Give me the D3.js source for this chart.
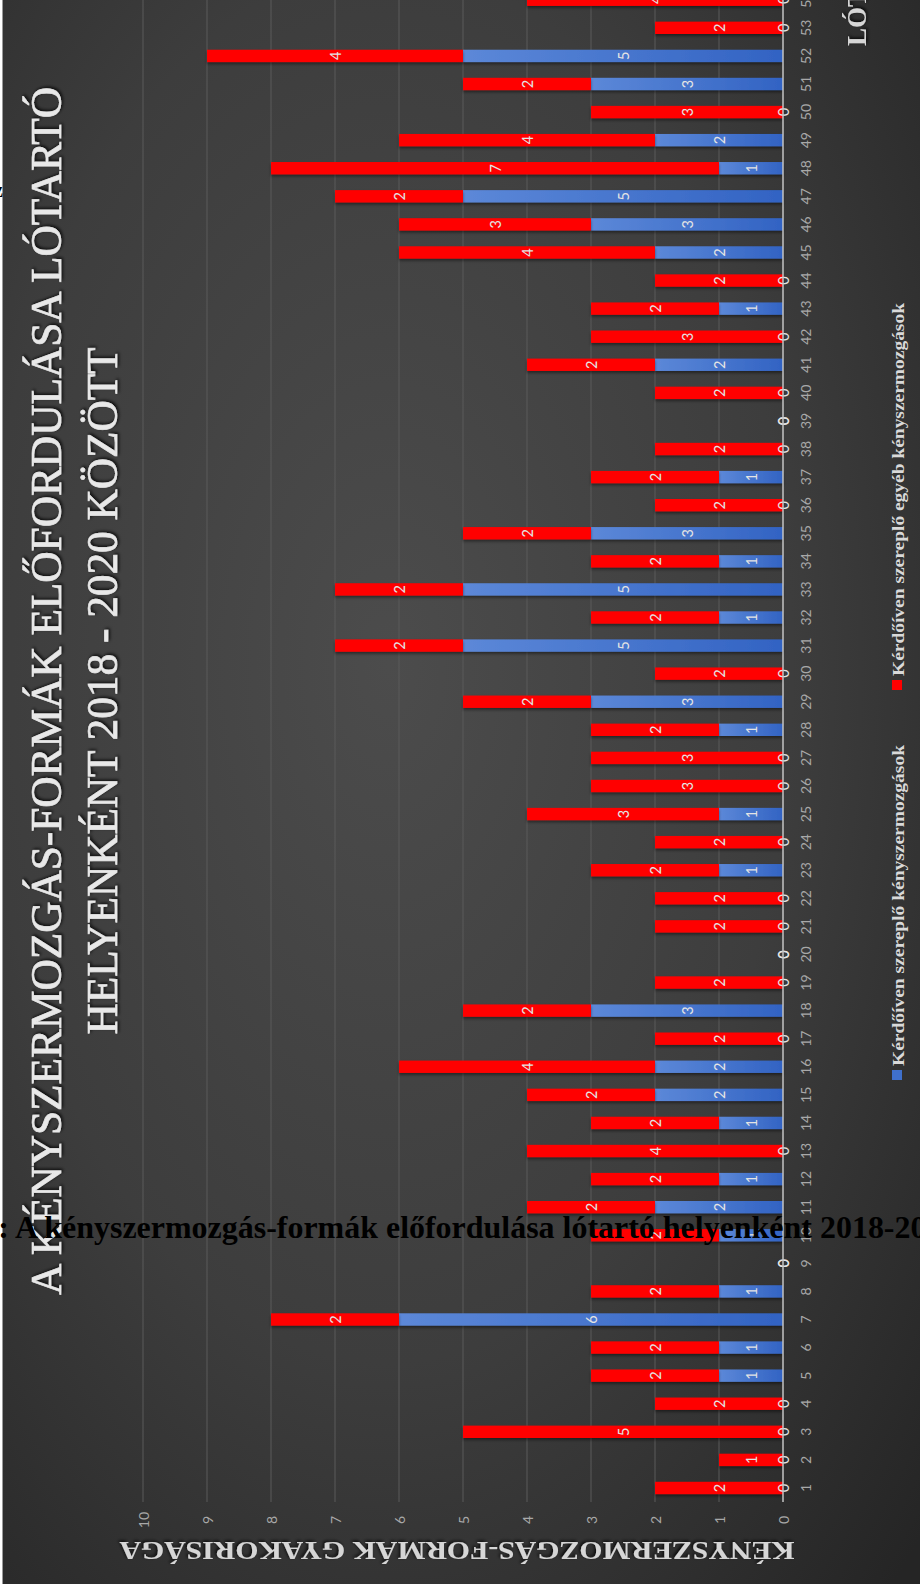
<!DOCTYPE html>
<html>
<head>
<meta charset="utf-8">
<script src="https://cdn.jsdelivr.net/npm/d3@7"></script>
<style>
  html, body { margin: 0; padding: 0; background: #ffffff; }
  svg { display: block; }
</style>
</head>
<body>
<svg id="chart" width="920" height="1584"></svg>
<script>
// Horse-keeping sites (numbered) and the frequency of stereotypic behaviours at each
const places = [1,2,3,4,5,6,7,8,9,10,11,12,13,14,15,16,17,18,19,20,21,22,23,24,25,26,27,
  28,29,30,31,32,33,34,35,36,37,38,39,40,41,42,43,44,45,46,47,48,49,50,51,52,53,54];

// Behaviours listed on the questionnaire
const listedForms = [0,0,0,0,1,1,6,1,0,1,2,1,0,1,2,2,0,3,0,0,0,0,1,0,1,0,0,
  1,3,0,5,1,5,1,3,0,1,0,0,0,2,0,1,0,2,3,5,1,2,0,3,5,0,0];

// Other behaviours named on the questionnaire
const otherForms = [2,1,5,2,2,2,2,2,0,2,2,2,4,2,2,4,2,2,2,0,2,2,2,2,3,3,3,
  2,2,2,2,2,2,2,2,2,2,2,0,2,2,3,2,2,4,3,2,7,4,3,2,4,2,4];

const seriesNames = ["Kérdőíven szereplő kényszermozgások", "Kérdőíven szereplő egyéb kényszermozgások"];
const valueTicks = [0,1,2,3,4,5,6,7,8,9,10];

const titleLines = ["A KÉNYSZERMOZGÁS-FORMÁK ELŐFORDULÁSA LÓTARTÓ", "HELYENKÉNT 2018 - 2020 KÖZÖTT"];
const valueAxisTitle = "KÉNYSZERMOZGÁS-FORMÁK GYAKORISÁGA";
const placeAxisTitle = "LÓTARTÓ HELYEK";
const captionText = ": A kényszermozgás-formák előfordulása lótartó helyenként 2018-2020";

const serif = "'Liberation Serif','Times New Roman',serif";
const sans = "Lato,'Liberation Sans',sans-serif";

const svg = d3.select("#chart");
const defs = svg.append("defs");

// background
const bg = defs.append("radialGradient").attr("id", "bgGrad")
  .attr("cx", 0.42).attr("cy", 0.42).attr("r", 0.8);
bg.append("stop").attr("offset", 0).attr("stop-color", "#4c4c4c");
bg.append("stop").attr("offset", 0.55).attr("stop-color", "#3d3d3d");
bg.append("stop").attr("offset", 1).attr("stop-color", "#252525");

const blueGrad = defs.append("linearGradient").attr("id", "blueGrad")
  .attr("x1", 0).attr("x2", 1).attr("y1", 0).attr("y2", 0);
blueGrad.append("stop").attr("offset", 0).attr("stop-color", "#5c88d8");
blueGrad.append("stop").attr("offset", 1).attr("stop-color", "#3263c3");

const shadow = defs.append("filter").attr("id", "barShadow")
  .attr("x", "-5%").attr("y", "-50%").attr("width", "110%").attr("height", "200%");
shadow.append("feDropShadow").attr("dx", 0).attr("dy", 2).attr("stdDeviation", 1.5)
  .attr("flood-color", "#000").attr("flood-opacity", 0.45);

const glow = defs.append("filter").attr("id", "textShadow")
  .attr("x", "-5%").attr("y", "-30%").attr("width", "110%").attr("height", "160%");
glow.append("feDropShadow").attr("dx", 1.5).attr("dy", 1.5).attr("stdDeviation", 1.5)
  .attr("flood-color", "#000").attr("flood-opacity", 0.8);

svg.append("rect").attr("x", 2.5).attr("y", 0).attr("width", 918).attr("height", 1584)
  .attr("fill", "url(#bgGrad)");
svg.append("line").attr("x1", 2.5).attr("x2", 2.5).attr("y1", 0).attr("y2", 1584)
  .attr("stroke", "#9a9a9a").attr("stroke-width", 1);

// scales: values run right-to-left, sites bottom-to-top
const x = d3.scaleLinear().domain([0, 10]).range([783, 143]);
const y = d3.scaleBand().domain(places).range([1502, -14.3])
  .paddingInner(0.56).paddingOuter(0.28);

// grid
svg.append("g").selectAll("line").data(valueTicks.filter(v => v > 0)).join("line")
  .attr("x1", d => x(d)).attr("x2", d => x(d))
  .attr("y1", 0).attr("y2", 1502)
  .attr("stroke", "#5a5a5a").attr("stroke-width", 1);

// stacked bars
const rows = places.map((p, i) => ({ place: p, listed: listedForms[i], other: otherForms[i] }));
const stacked = d3.stack().keys(["listed", "other"])(rows);
const fills = { listed: "url(#blueGrad)", other: "#ff0000" };

const barLayer = svg.append("g");
stacked.forEach(layer => {
  barLayer.append("g").attr("filter", "url(#barShadow)")
    .selectAll("rect").data(layer).join("rect")
    .attr("x", d => x(d[1]))
    .attr("width", d => x(d[0]) - x(d[1]))
    .attr("y", d => y(d.data.place))
    .attr("height", y.bandwidth())
    .attr("fill", fills[layer.key]);
});

// value labels inside each segment
stacked.forEach(layer => {
  barLayer.append("g").selectAll("text").data(layer).join("text")
    .attr("transform", d => `translate(${(x(d[0]) + x(d[1])) / 2},${y(d.data.place) + y.bandwidth() / 2}) rotate(-90)`)
    .attr("text-anchor", "middle")
    .attr("dominant-baseline", "central")
    .attr("font-family", sans)
    .attr("font-size", 14.5)
    .attr("fill", "#e4e4e4")
    .text(d => d[1] - d[0]);
});

// category axis line
svg.append("line").attr("x1", x(0)).attr("x2", x(0)).attr("y1", 0).attr("y2", 1502)
  .attr("stroke", "#c4c4c4").attr("stroke-width", 1.5);

// value axis labels
const vAxis = svg.append("g").attr("transform", "translate(0,1520)")
  .call(d3.axisBottom(x).tickValues(valueTicks).tickSize(0).tickFormat(d3.format("d")));
vAxis.select(".domain").remove();
vAxis.selectAll("text")
  .attr("y", 0).attr("dy", null)
  .attr("transform", "rotate(-90)")
  .attr("text-anchor", "middle")
  .attr("dominant-baseline", "central")
  .attr("font-family", sans).attr("font-size", 14).attr("fill", "#a8a8a8");

// site axis labels
const cAxis = svg.append("g").attr("transform", "translate(805,0)")
  .call(d3.axisRight(y).tickSize(0));
cAxis.select(".domain").remove();
cAxis.selectAll("text")
  .attr("x", 0).attr("dy", null)
  .attr("transform", "rotate(-90)")
  .attr("text-anchor", "middle")
  .attr("dominant-baseline", "central")
  .attr("font-family", sans).attr("font-size", 14).attr("fill", "#a8a8a8");

// chart title, two lines reading upward
const titleSpecs = [
  { text: titleLines[0], bx: 61, len: 1208 },
  { text: titleLines[1], bx: 117, len: 687 }
];
titleSpecs.forEach(t => {
  svg.append("text")
    .attr("transform", `translate(${t.bx},691) rotate(-90)`)
    .attr("text-anchor", "middle")
    .attr("font-family", serif)
    .attr("font-size", 45)
    .attr("fill", "#e8e8e8")
    .attr("stroke", "#e8e8e8").attr("stroke-width", 0.7)
    .attr("filter", "url(#textShadow)")
    .attr("textLength", t.len)
    .attr("lengthAdjust", "spacingAndGlyphs")
    .text(t.text);
});

// value axis title (upside down)
svg.append("text")
  .attr("transform", "translate(457,1542) rotate(180)")
  .attr("text-anchor", "middle")
  .attr("font-family", serif).attr("font-weight", "bold")
  .attr("font-size", 26).attr("fill", "#d6d6d6")
  .attr("filter", "url(#textShadow)")
  .attr("textLength", 675).attr("lengthAdjust", "spacingAndGlyphs")
  .text(valueAxisTitle);

// site axis title
svg.append("text")
  .attr("transform", "translate(866,46) rotate(-90)")
  .attr("font-family", serif).attr("font-weight", "bold")
  .attr("font-size", 27).attr("fill", "#d6d6d6")
  .attr("filter", "url(#textShadow)")
  .text(placeAxisTitle);

// legend
const legendSpecs = [
  { name: seriesNames[0], fill: "#3f70cc", sy: 1080, len: 321 },
  { name: seriesNames[1], fill: "#ff0000", sy: 690, len: 373 }
];
legendSpecs.forEach(l => {
  const g = svg.append("g").attr("transform", `translate(904,${l.sy}) rotate(-90)`);
  g.append("rect").attr("x", 0).attr("y", -12).attr("width", 10).attr("height", 10).attr("fill", l.fill);
  g.append("text").attr("x", 14).attr("y", 0)
    .attr("font-family", serif).attr("font-weight", "bold")
    .attr("font-size", 17).attr("fill", "#d9d9d9")
    .attr("textLength", l.len).attr("lengthAdjust", "spacingAndGlyphs")
    .text(l.name);
});

// running caption of the page, set over the figure
const cap = svg.append("text")
  .attr("y", 1238)
  .attr("font-family", serif).attr("font-weight", "bold")
  .attr("font-size", 32).attr("fill", "#000")
  .text(captionText);
const capNode = cap.node();
const iA = captionText.indexOf("A");
const iH = captionText.indexOf("helyenként");
const span = capNode.getStartPositionOfChar(iH).x - capNode.getStartPositionOfChar(iA).x;
cap.attr("font-size", 32 * 648 / span);
cap.attr("x", 15 - capNode.getStartPositionOfChar(iA).x);

// edge of the neighbouring page text
svg.append("text").attr("x", 3).attr("y", 197).attr("text-anchor", "end")
  .attr("font-family", serif).attr("font-weight", "bold").attr("font-size", 20)
  .attr("fill", "#000").text("z");
</script>
</body>
</html>
